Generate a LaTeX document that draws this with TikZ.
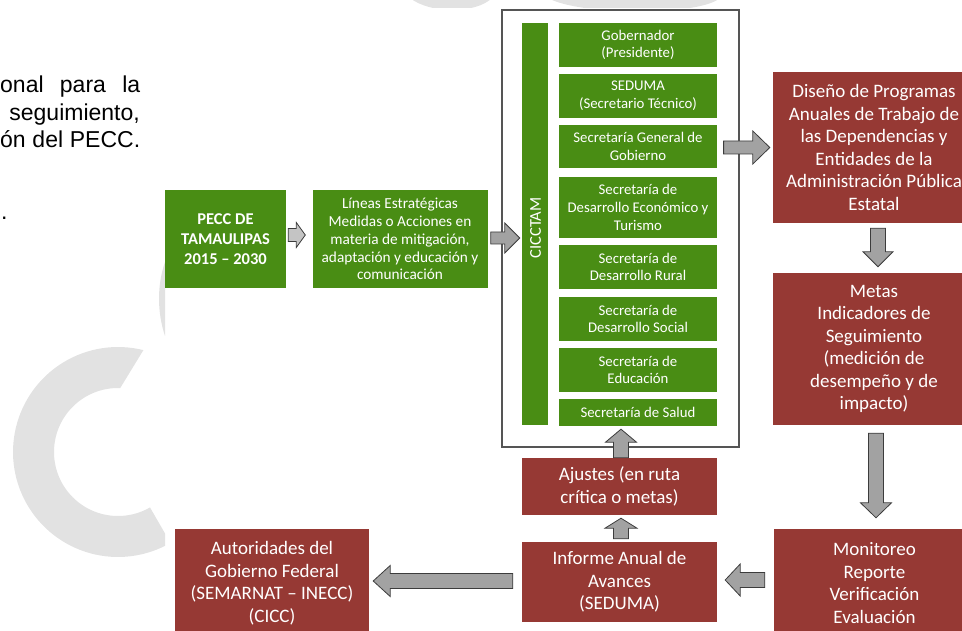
\documentclass[tikz,border=0pt]{standalone}
\usepackage{fontspec}
\setmainfont{Carlito}
\newfontfamily\parafont{Liberation Sans}
\usetikzlibrary{calc}

\definecolor{boxgreen}{RGB}{73,141,20}
\definecolor{boxred}{RGB}{150,57,52}
\definecolor{arrowgray}{RGB}{162,162,162}
\definecolor{arrowlight}{RGB}{196,196,196}
\definecolor{arrowedge}{RGB}{60,60,60}
\definecolor{markgray}{RGB}{226,226,226}
\definecolor{framegray}{RGB}{85,85,85}

\tikzset{
  wh/.style 2 args={minimum width=#1pt, minimum height=#2pt},
  greenbox/.style={fill=boxgreen, text=white, align=center, inner sep=0pt,
    font=\fontsize{14.8}{17.6}\selectfont},
  redbox/.style={fill=boxred, text=white, align=center, inner sep=0pt,
    font=\fontsize{19}{22.5}\selectfont},
  blockarrow/.style={fill=arrowgray, draw=arrowedge, line width=0.8pt, line join=miter},
  paratext/.style={inner sep=0pt, font=\parafont\fontsize{23}{27.5}\selectfont},
}

% block arrow: [style]{tail}{tip}{body half width}{head half width}{head length}
\newcommand\blockarrow[6][]{%
  \coordinate (ba-base) at ($(#3)!#6!(#2)$);
  \draw[blockarrow,#1] ($(#2)!#4!90:(#3)$) -- ($(ba-base)!#4!-90:(#2)$)
    -- ($(ba-base)!#5!-90:(#2)$) -- (#3) -- ($(ba-base)!#5!90:(#2)$)
    -- ($(ba-base)!#4!90:(#2)$) -- ($(#2)!#4!-90:(#3)$) -- cycle;}

\begin{document}
\begin{tikzpicture}[x=1pt, y=-1pt]
\useasboundingbox (0,0) rectangle (962,631);
\clip (0,0) rectangle (962,631);

% faint logo shapes in the background
\begin{scope}
  \clip (0,0) rectangle (165,631);
  \fill[markgray] plot[domain=-76:-300, samples=80] ({118+105*cos(\x)},{452+105*sin(\x)})
    -- plot[domain=-300:-88, samples=80] ({118+64*cos(\x)},{452+64*sin(\x)}) -- cycle;
  \fill[markgray] (165,262) .. controls (157,285) and (157,312) .. (165,336) -- cycle;
\end{scope}
\begin{scope}
  \clip (0,0) rectangle (962,8);
  \fill[markgray] (410,-2) .. controls (430,14) and (476,14) .. (492,-2) -- cycle;
  \fill[markgray] (548,-2) .. controls (580,16) and (700,16) .. (720,-2) -- cycle;
\end{scope}

% paragraph fragment
\node[paratext, anchor=base west] (p1) at (0,93) {\makebox[140pt][s]{onal para la}};
\node[paratext, anchor=base east] (p2) at (140,120.5) {seguimiento,};
\node[paratext, anchor=base west] (p3) at (0,148) {\makebox[140pt][s]{ón del PECC.}};
\node[paratext, anchor=base west] (p4) at (1,220) {.};

% left green boxes
\node[greenbox, wh={121}{98}, font=\bfseries\fontsize{16.5}{20}\selectfont] (pecc) at (225.5,239)
  {PECC DE\\TAMAULIPAS\\2015 – 2030};
\node[greenbox, wh={175}{98}, font=\fontsize{15.3}{17.8}\selectfont] (lineas) at (400,239)
  {Líneas Estratégicas\\Medidas o Acciones en\\materia de mitigación,\\adaptación y educación y\\comunicación};

% committee frame
\node[draw=framegray, line width=1.2pt, fill=white, wh={237}{437}, inner sep=0pt] (frame) at (620.5,228.5) {};
\node[fill=boxgreen, wh={26}{402}, inner sep=0pt] (cicctam) at (535,224) {};
\node[rotate=90, text=white, inner sep=0pt, font=\fontsize{16.5}{19}\selectfont] (cicctamlabel) at (535.5,228) {CICCTAM};

\node[greenbox, wh={158}{44}] (gob) at (638,45) {Gobernador\\(Presidente)};
\node[greenbox, wh={158}{44}] (sedu) at (638,96) {SEDUMA\\(Secretario Técnico)};
\node[greenbox, wh={158}{43}] (sgg) at (638,146.5) {Secretaría General de\\Gobierno};
\node[greenbox, wh={158}{61}] (sde) at (638,207.5) {Secretaría de\\Desarrollo Económico y\\Turismo};
\node[greenbox, wh={158}{44}] (sdr) at (638,267) {Secretaría de\\Desarrollo Rural};
\node[greenbox, wh={158}{44}] (sds) at (638,319) {Secretaría de\\Desarrollo Social};
\node[greenbox, wh={158}{44}] (sep) at (638,370) {Secretaría de\\Educación};
\node[greenbox, wh={158}{27}] (ssa) at (638,412.5) {Secretaría de Salud};

% red boxes
\node[redbox, wh={202}{151}] (dis) at (874,147.5)
  {Diseño de Programas\\Anuales de Trabajo de\\las Dependencias y\\Entidades de la\\Administración Pública\\Estatal};
\node[redbox, wh={202}{152}] (metas) at (874,349)
  {Metas\\Indicadores de\\Seguimiento\\(medición de\\desempeño y de\\impacto)};
\node[redbox, wh={201}{108}] (mon) at (874.5,583)
  {Monitoreo\\Reporte\\Verificación\\Evaluación};
\node[redbox, wh={195}{80}] (inf) at (619.5,582)
  {Informe Anual de\\Avances\\(SEDUMA)};
\node[redbox, wh={195}{57}] (aj) at (619.5,486.5)
  {Ajustes (en ruta\\crítica o metas)};
\node[redbox, wh={194}{108}] (aut) at (272,583)
  {Autoridades del\\Gobierno Federal\\(SEMARNAT – INECC)\\(CICC)};

% arrows
\coordinate (a1s) at ($(pecc.east)+(2,-4)$);
\coordinate (a1e) at ($(lineas.west)+(-7,-4)$);
\blockarrow[fill=arrowlight]{a1s}{a1e}{6.5pt}{12.5pt}{9pt}

\coordinate (a2s) at ($(lineas.east)+(3,-1)$);
\coordinate (a2e) at ($(lineas.east -| cicctam.west)+(-2,-1)$);
\blockarrow{a2s}{a2e}{6pt}{15pt}{15pt}

\coordinate (a3s) at ($(dis.west -| frame.east)+(-16,0)$);
\coordinate (a3e) at ($(dis.west)+(-3,0)$);
\blockarrow{a3s}{a3e}{6.5pt}{16.5pt}{17pt}

\coordinate (a4s) at ($(dis.south)+(4,5)$);
\coordinate (a4e) at ($(metas.north)+(4,-6)$);
\blockarrow{a4s}{a4e}{7.5pt}{15pt}{15pt}

\coordinate (a5s) at ($(metas.south)+(2,8)$);
\coordinate (a5e) at ($(mon.north)+(1.5,-11)$);
\blockarrow{a5s}{a5e}{7.5pt}{15.5pt}{15pt}

\coordinate (a6s) at ($(mon.west)+(-9,-3)$);
\coordinate (a6e) at ($(inf.east)+(8,-2)$);
\blockarrow{a6s}{a6e}{7.5pt}{16pt}{15pt}

\coordinate (a7s) at ($(inf.north)+(1.5,-3)$);
\coordinate (a7e) at ($(aj.south)+(1.5,3)$);
\blockarrow{a7s}{a7e}{7.5pt}{16pt}{10pt}

\coordinate (a8s) at ($(aj.north)+(1.5,0)$);
\coordinate (a8e) at ($(ssa.south -| aj.north)+(1.5,3)$);
\blockarrow{a8s}{a8e}{7.5pt}{15.5pt}{13pt}

\coordinate (a9s) at ($(inf.west)+(-9,-1)$);
\coordinate (a9e) at ($(aut.east)+(4,-2)$);
\blockarrow{a9s}{a9e}{7.5pt}{15.5pt}{17pt}
\end{tikzpicture}
\end{document}
